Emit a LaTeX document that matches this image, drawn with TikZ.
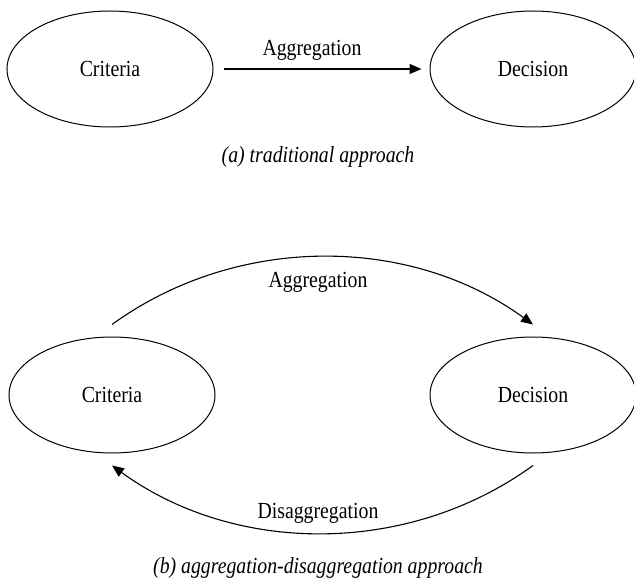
\documentclass[tikz,border=0pt]{standalone}
\usepackage{fontspec}
\setmainfont{Liberation Serif}[FakeStretch=0.86]
\usetikzlibrary{shapes.geometric,arrows.meta}
\begin{document}
\begin{tikzpicture}[x=1pt,y=-1pt,
  ell/.style={draw, ellipse, line width=1pt, minimum width=206pt, minimum height=116pt, inner sep=0pt, font=\fontsize{23}{27}\selectfont},
  lbl/.style={font=\fontsize{23}{27}\selectfont, inner sep=0pt},
  captxt/.style={font=\fontsize{23}{27}\selectfont\itshape, inner sep=0pt},
  conn/.style={line width=1.1pt, -{Triangle[length=12pt,width=10pt]}}]
\path[use as bounding box] (0,0) rectangle (634,585);
% (a)
\node[ell] (c1) at (110,69) {Criteria};
\node[ell] (d1) at (533,69) {Decision};
\draw[conn, shorten <=10pt, shorten >=8pt] (c1) -- (d1);
\node[lbl] (ag1) at (312,50) {Aggregation};
\node[captxt] (capa) at (318,157) {(a) traditional approach};
% (b)
\node[ell] (c2) at (112,395) {Criteria};
\node[ell] (d2) at (533,395) {Decision};
\coordinate (s1) at ([yshift=12pt]c2.north);
\coordinate (e1) at ([yshift=12pt]d2.north);
\coordinate (s2) at ([yshift=-12pt]d2.south);
\coordinate (e2) at ([yshift=-12pt]c2.south);
\draw[conn] (s1) .. controls +(124,-90) and +(-124,-90) .. (e1);
\draw[conn] (s2) .. controls +(-124,90) and +(124,90) .. (e2);
\node[lbl] (ag2) at (318,282) {Aggregation};
\node[lbl] (dis) at (318,513) {Disaggregation};
\node[captxt] (capb) at (318,568) {(b) aggregation-disaggregation approach};
\end{tikzpicture}
\end{document}
